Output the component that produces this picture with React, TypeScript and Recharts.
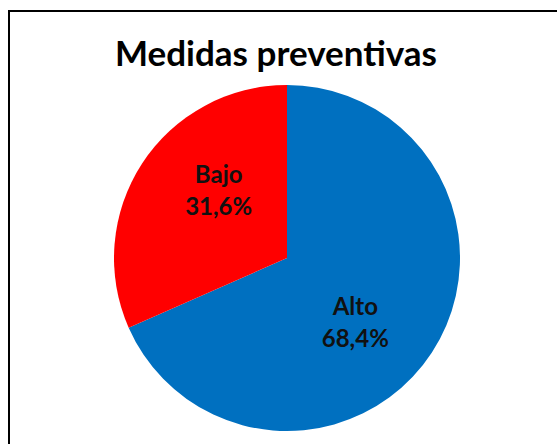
import { PieChart, Pie, Cell } from "recharts";

const categories = ["Alto", "Bajo"];
const values = [68.4, 31.6];
const colors = ["#0070C0", "#FF0000"];

const data = categories.map((name, i) => ({ name, value: values[i] }));

const RADIAN = Math.PI / 180;

const SliceLabel = (props: any) => {
  const { cx, cy, midAngle, outerRadius, name, value } = props;
  const r = outerRadius * 0.55;
  const a = (midAngle - 11) * RADIAN;
  const x = cx + r * Math.cos(-a);
  const y = cy + r * Math.sin(-a);
  return (
    <text
      x={x}
      y={y}
      textAnchor="middle"
      fill="#111"
      fontFamily="Lato, 'Open Sans', sans-serif"
      fontWeight="bold"
      fontSize={24}
    >
      <tspan x={x} dy={-9}>{name}</tspan>
      <tspan x={x} dy={32}>{value.toFixed(1).replace(".", ",")}%</tspan>
    </text>
  );
};

export default function App() {
  return (
    <div style={{ position: "absolute", top: 0, left: 0, width: 557, height: 444, background: "#fff", overflow: "hidden" }}>
      <div
        style={{
          position: "absolute",
          left: 8,
          top: 10,
          width: 600,
          height: 500,
          border: "2px solid #000",
          boxSizing: "border-box",
        }}
      />
      <div
        style={{
          position: "absolute",
          left: 0,
          top: 30,
          width: 552,
          textAlign: "center",
          fontFamily: "Lato, 'Open Sans', sans-serif",
          fontWeight: "bold",
          fontSize: 35,
          color: "#000",
          lineHeight: "44px",
        }}
      >
        Medidas preventivas
      </div>
      <div style={{ position: "absolute", left: 0, top: 0 }}>
        <PieChart width={557} height={444} margin={{ top: 0, right: 0, bottom: 0, left: 0 }}>
          <Pie
            data={data}
            dataKey="value"
            nameKey="name"
            cx={287}
            cy={258}
            outerRadius={173}
            startAngle={90}
            endAngle={-270}
            stroke="none"
            labelLine={false}
            label={SliceLabel}
            isAnimationActive={false}
          >
            {data.map((d, i) => (
              <Cell key={d.name} fill={colors[i]} />
            ))}
          </Pie>
        </PieChart>
      </div>
    </div>
  );
}
